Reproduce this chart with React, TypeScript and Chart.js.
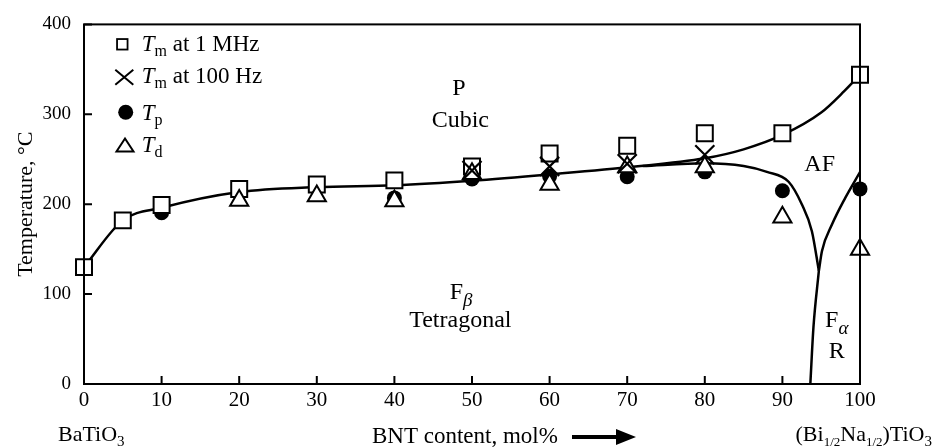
import React, { useEffect, useRef } from 'react';
import { Chart, registerables } from 'chart.js';

Chart.register(...registerables);

const SERIF = '"Liberation Serif", "Times New Roman", serif';

// ---- Measured points (x = BNT content mol%, y = temperature °C) ----
const tm1MHzX = [0, 5, 10, 20, 30, 40, 50, 60, 70, 80, 90, 100];
const tm1MHzY = [130, 182, 199, 217, 222, 226.5, 242, 256.5, 265, 279, 279, 344];

const tm100HzX = [50, 60, 70, 80];
const tm100HzY = [237.5, 242, 245, 255];

const tpX = [10, 40, 50, 60, 70, 80, 90, 100];
const tpY = [190.5, 207, 228, 231, 230.5, 236, 215, 217];

const tdX = [20, 30, 40, 50, 60, 70, 80, 90, 100];
const tdY = [204, 209, 203.5, 234, 222, 241.5, 241.5, 185.5, 149.5];

// ---- Phase boundary curves ----
const cubicBoundX = [0, 5, 10, 20, 30, 40, 50, 60, 70, 80, 85, 90, 95, 98, 100];
const cubicBoundY = [130, 182, 196, 213.5, 219, 221, 226, 233, 241, 251, 261, 277, 302, 326, 344];

const afBoundX = [72, 80, 85, 88, 90.8, 92.5, 93.8, 94.7];
const afBoundY = [242.5, 245.5, 242.5, 236, 225, 200, 170, 126];

const rBoundX = [94.7, 95.1, 96.4, 98.1, 100];
const rBoundY = [126, 148, 177.6, 207, 235.7];

const tetraBoundX = [93.6, 94.0, 94.7];
const tetraBoundY = [0, 63, 126];

// ---- Axis ticks ----
const xTickValues = [0, 10, 20, 30, 40, 50, 60, 70, 80, 90, 100];
const yTickValues = [0, 100, 200, 300, 400];

const pts = (xs: number[], ys: number[]) => xs.map((x, i) => ({ x, y: ys[i] }));

type Part = { t: string; s: number; it?: boolean; dy?: number };

function rich(ctx: CanvasRenderingContext2D, parts: Part[], x: number, y: number, align: 'left' | 'center' | 'right' = 'left') {
  ctx.textAlign = 'left';
  ctx.textBaseline = 'alphabetic';
  const widths = parts.map((p) => {
    ctx.font = `${p.it ? 'italic ' : ''}${p.s}px ${SERIF}`;
    return ctx.measureText(p.t).width;
  });
  const total = widths.reduce((a, b) => a + b, 0);
  let cx = align === 'center' ? x - total / 2 : align === 'right' ? x - total : x;
  parts.forEach((p, i) => {
    ctx.font = `${p.it ? 'italic ' : ''}${p.s}px ${SERIF}`;
    ctx.fillText(p.t, cx, y + (p.dy || 0));
    cx += widths[i];
  });
}

const overlay = {
  id: 'overlay',
  afterDraw(chart: any) {
    const ctx: CanvasRenderingContext2D = chart.ctx;
    const { left, right, top, bottom } = chart.chartArea;
    const xs = chart.scales.x;
    const ys = chart.scales.y;
    ctx.save();
    ctx.fillStyle = '#000';
    ctx.strokeStyle = '#000';

    // frame
    ctx.lineWidth = 2;
    ctx.strokeRect(left, top, right - left, bottom - top);

    // inward tick marks
    ctx.beginPath();
    xTickValues.forEach((v) => {
      const px = xs.getPixelForValue(v);
      ctx.moveTo(px, bottom);
      ctx.lineTo(px, bottom - 8);
    });
    yTickValues.forEach((v) => {
      const py = ys.getPixelForValue(v);
      ctx.moveTo(left, py);
      ctx.lineTo(left + 8, py);
    });
    ctx.stroke();

    // in-plot labels
    const X = (v: number) => xs.getPixelForValue(v);
    const Y = (v: number) => ys.getPixelForValue(v);
    rich(ctx, [{ t: 'P', s: 24 }], X(48.3), Y(321), 'center');
    rich(ctx, [{ t: 'Cubic', s: 24 }], X(48.5), Y(286), 'center');
    rich(ctx, [{ t: 'F', s: 24 }, { t: 'β', s: 19, it: true, dy: 7 }], X(48.6), Y(94.7), 'center');
    rich(ctx, [{ t: 'Tetragonal', s: 24 }], X(48.5), Y(63.3), 'center');
    rich(ctx, [{ t: 'AF', s: 24 }], X(94.8), Y(236.5), 'center');
    rich(ctx, [{ t: 'F', s: 24 }, { t: 'α', s: 19, it: true, dy: 7 }], X(95.5), Y(63.3), 'left');
    rich(ctx, [{ t: 'R', s: 24 }], X(97.0), Y(28.4), 'center');

    // y title
    ctx.save();
    ctx.translate(32, (top + bottom) / 2);
    ctx.rotate(-Math.PI / 2);
    rich(ctx, [{ t: 'Temperature, °C', s: 22 }], 0, 0, 'center');
    ctx.restore();

    // bottom texts
    rich(ctx, [{ t: 'BaTiO', s: 22 }, { t: '3', s: 15, dy: 5 }], 58, 441, 'left');
    rich(
      ctx,
      [
        { t: '(Bi', s: 22 },
        { t: '1/2', s: 13, dy: 5 },
        { t: 'Na', s: 22 },
        { t: '1/2', s: 13, dy: 5 },
        { t: ')TiO', s: 22 },
        { t: '3', s: 15, dy: 5 },
      ],
      932,
      441,
      'right'
    );
    rich(ctx, [{ t: 'BNT content, mol%', s: 23 }], 372, 443, 'left');
    // arrow
    ctx.lineWidth = 4;
    ctx.beginPath();
    ctx.moveTo(572, 437);
    ctx.lineTo(620, 437);
    ctx.stroke();
    ctx.beginPath();
    ctx.moveTo(616, 429);
    ctx.lineTo(636, 437);
    ctx.lineTo(616, 445);
    ctx.closePath();
    ctx.fill();

    // legend
    ctx.lineWidth = 1.8;
    ctx.strokeRect(122.3 - 5.25, 44.3 - 5.25, 10.5, 10.5);
    ctx.lineWidth = 2;
    ctx.beginPath();
    ctx.moveTo(124.3 - 9, 77.3 - 7.5);
    ctx.lineTo(124.3 + 9, 77.3 + 7.5);
    ctx.moveTo(124.3 + 9, 77.3 - 7.5);
    ctx.lineTo(124.3 - 9, 77.3 + 7.5);
    ctx.stroke();
    ctx.beginPath();
    ctx.arc(125.7, 112.3, 7.5, 0, Math.PI * 2);
    ctx.fill();
    ctx.beginPath();
    ctx.moveTo(125, 138.5);
    ctx.lineTo(133.5, 151.5);
    ctx.lineTo(116.5, 151.5);
    ctx.closePath();
    ctx.stroke();

    rich(ctx, [{ t: 'T', s: 23, it: true }, { t: 'm', s: 16, dy: 5 }, { t: ' at 1 MHz', s: 23 }], 141.7, 50.7);
    rich(ctx, [{ t: 'T', s: 23, it: true }, { t: 'm', s: 16, dy: 5 }, { t: ' at 100 Hz', s: 23 }], 141.7, 83.3);
    rich(ctx, [{ t: 'T', s: 23, it: true }, { t: 'p', s: 16, dy: 5 }], 141.7, 120);
    rich(ctx, [{ t: 'T', s: 23, it: true }, { t: 'd', s: 16, dy: 5 }], 141.7, 151.7);

    ctx.restore();
  },
};

export default function App() {
  const ref = useRef<HTMLCanvasElement | null>(null);

  useEffect(() => {
    if (!ref.current) return;
    const lineDs = (xs: number[], ys: number[]) => ({
      data: pts(xs, ys),
      borderColor: '#000',
      borderWidth: 2.5,
      pointRadius: 0,
      cubicInterpolationMode: 'monotone' as const,
      fill: false,
      order: 10,
    });
    const chart = new Chart(ref.current, {
      type: 'line',
      data: {
        datasets: [
          {
            label: 'Tm at 100 Hz',
            data: pts(tm100HzX, tm100HzY),
            showLine: false,
            pointStyle: 'crossRot',
            pointRadius: 13.5,
            pointBorderColor: '#000',
            pointBorderWidth: 2.2,
            clip: false,
            order: 1,
          } as any,
          {
            label: 'Td',
            data: pts(tdX, tdY),
            showLine: false,
            pointStyle: 'triangle',
            pointRadius: 10.5,
            pointBackgroundColor: '#fff',
            pointBorderColor: '#000',
            pointBorderWidth: 2,
            clip: false,
            order: 2,
          },
          {
            label: 'Tm at 1 MHz',
            data: pts(tm1MHzX, tm1MHzY),
            showLine: false,
            pointStyle: 'rect',
            pointRadius: 11.3,
            pointBackgroundColor: '#fff',
            pointBorderColor: '#000',
            pointBorderWidth: 2,
            clip: false,
            order: 3,
          },
          {
            label: 'Tp',
            data: pts(tpX, tpY),
            showLine: false,
            pointStyle: 'circle',
            pointRadius: 7.5,
            pointBackgroundColor: '#000',
            pointBorderColor: '#000',
            pointBorderWidth: 0,
            clip: false,
            order: 4,
          },
          lineDs(cubicBoundX, cubicBoundY),
          lineDs(afBoundX, afBoundY),
          lineDs(rBoundX, rBoundY),
          lineDs(tetraBoundX, tetraBoundY),
        ],
      },
      options: {
        responsive: false,
        animation: false,
        devicePixelRatio: 1,
        layout: { padding: { top: 22, right: 73, left: 0, bottom: 0 } },
        plugins: { legend: { display: false }, tooltip: { enabled: false } },
        events: [],
        scales: {
          x: {
            type: 'linear',
            min: 0,
            max: 100,
            afterFit: (s: any) => {
              s.height = 64;
            },
            afterBuildTicks: (s: any) => {
              s.ticks = xTickValues.map((v) => ({ value: v }));
            },
            grid: { display: false, drawTicks: false, tickLength: 0 },
            border: { display: false },
            ticks: { color: '#000', font: { family: SERIF, size: 21 }, padding: 4, maxRotation: 0, autoSkip: false },
          },
          y: {
            type: 'linear',
            min: 0,
            max: 400,
            afterFit: (s: any) => {
              s.width = 84;
            },
            afterBuildTicks: (s: any) => {
              s.ticks = yTickValues.map((v) => ({ value: v }));
            },
            grid: { display: false, drawTicks: false, tickLength: 0 },
            border: { display: false },
            ticks: { color: '#000', font: { family: SERIF, size: 19 }, padding: 13 },
          },
        },
      },
      plugins: [overlay],
    });
    return () => chart.destroy();
  }, []);

  return (
    <div style={{ position: 'fixed', left: 0, top: 0, width: 933, height: 448, background: '#fff' }}>
      <canvas ref={ref} width={933} height={448} />
    </div>
  );
}
